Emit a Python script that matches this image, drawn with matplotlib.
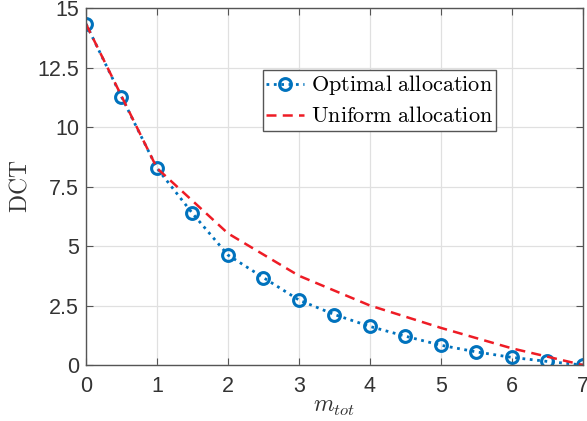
import numpy as np
import matplotlib
matplotlib.use("Agg")
import matplotlib.pyplot as plt
from matplotlib.ticker import FormatStrFormatter

# 数据
m_opt = [0, 0.5, 1, 1.5, 2, 2.5, 3, 3.5, 4, 4.5, 5, 5.5, 6, 6.5, 7]
dct_opt = [14.33, 11.27, 8.27, 6.37, 4.62, 3.67, 2.73, 2.12, 1.62, 1.21, 0.83, 0.55, 0.32, 0.15, 0.0]
m_uni = [0, 1, 2, 3, 4, 5, 6, 7]
dct_uni = [14.33, 8.27, 5.53, 3.75, 2.5, 1.56, 0.7, 0.0]

plt.rcParams['font.family'] = ['Liberation Sans', 'DejaVu Sans']
plt.rcParams['mathtext.fontset'] = 'cm'

fig = plt.figure(figsize=(5.87, 4.21), dpi=100)
ax = fig.add_axes([0.1465, 0.133, 0.8465, 0.848])

ax.plot(m_opt, dct_opt, linestyle=':', color='#0072BD', linewidth=2,
        marker='o', markersize=8.5, markerfacecolor='none', markeredgewidth=2.2,
        label=r'$\mathrm{Optimal\ allocation}$')
ax.plot(m_uni, dct_uni, linestyle=(0, (4, 2.5)), color='#EE1C25', linewidth=1.8,
        label=r'$\mathrm{Uniform\ allocation}$')

ax.set_xlim(0, 7)
ax.set_ylim(0, 15)
ax.set_xticks(np.arange(0, 8, 1))
ax.set_yticks(np.arange(0, 15.1, 2.5))
ax.yaxis.set_major_formatter(FormatStrFormatter('%g'))

ax.grid(True, color='#e0e0e0', linewidth=0.9)
ax.set_axisbelow(True)
for s in ax.spines.values():
    s.set_color('#555555')
    s.set_linewidth(1)
ax.tick_params(direction='in', length=5, color='#555555', labelcolor='#333333',
               labelsize=15.5, top=True, right=True)
ax.tick_params(axis='x', pad=8)
ax.tick_params(axis='y', pad=5)

ax.set_xlabel(r'$m_{tot}$', fontsize=17, color='#333333', labelpad=-1)
ax.set_ylabel(r'$\mathrm{DCT}$', fontsize=17, color='#333333', labelpad=4)

leg = ax.legend(loc='upper left', bbox_to_anchor=(0.356, 0.826), fontsize=16,
                fancybox=False, framealpha=1, edgecolor='#555555',
                handlelength=1.7, handletextpad=0.3, borderpad=0.15,
                labelspacing=0.4, borderaxespad=0)
leg.get_frame().set_linewidth(1)

plt.savefig('out.png', dpi=100)
